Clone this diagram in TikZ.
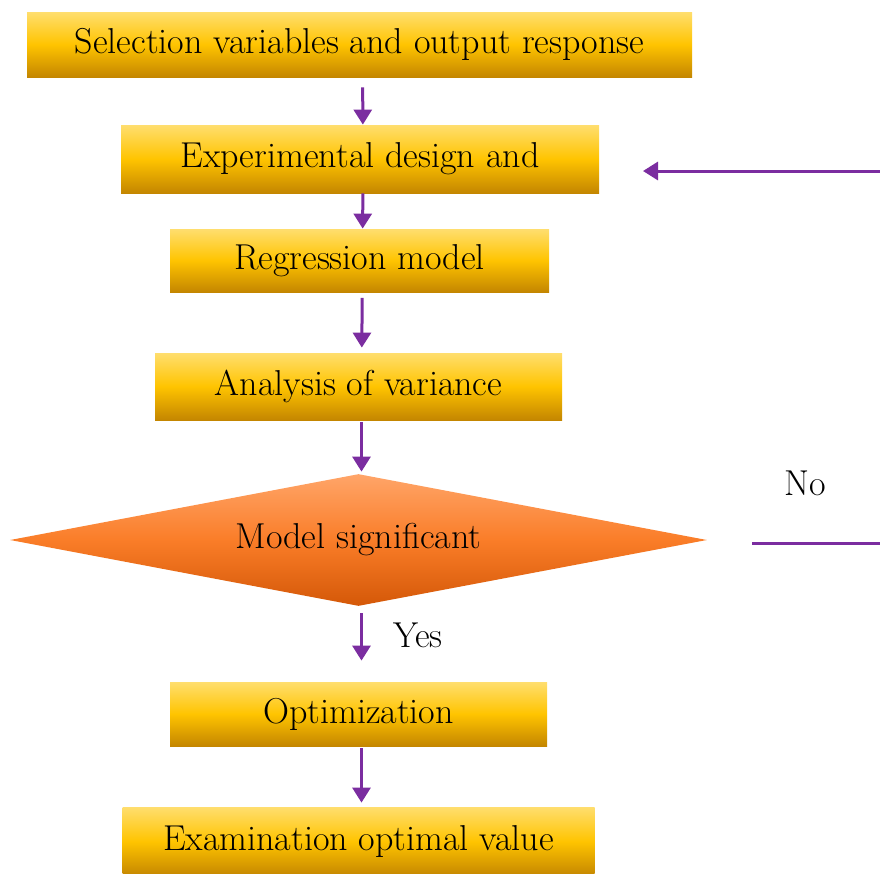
\documentclass[tikz,border=0pt]{standalone}
\usepackage{tikz}
\usetikzlibrary{positioning, arrows.meta, shapes.geometric}

\definecolor{boxtop}{RGB}{255,222,110}
\definecolor{boxmid}{RGB}{255,196,0}
\definecolor{boxbot}{RGB}{196,134,0}
\definecolor{testtop}{RGB}{255,165,105}
\definecolor{testmid}{RGB}{250,125,40}
\definecolor{testbot}{RGB}{212,88,8}
\definecolor{flowpurple}{RGB}{123,45,160}

\begin{document}
\begin{tikzpicture}[x=0.5pt, y=-0.5pt,
  box/.style={rectangle, inner sep=0pt, font=\fontsize{18}{21}\selectfont,
    top color=boxtop, bottom color=boxbot, middle color=boxmid},
  test/.style={diamond, shape aspect=5, inner sep=0pt, font=\fontsize{18}{21}\selectfont,
    top color=testtop, bottom color=testbot, middle color=testmid},
  lbl/.style={font=\fontsize{18}{21}\selectfont},
  arr/.style={flowpurple, line width=1.5pt, -{Triangle[length=7.5pt, width=9pt]}},
  down/.style={arr, transform canvas={xshift=1.5pt}}]
\useasboundingbox (0,0) rectangle (880,874);

% main chain
\node[box, minimum width=332.5pt, minimum height=32.5pt] (select) at (359.5,44.5) {Selection variables and output response};
\node[box, minimum width=239pt, minimum height=34pt] (design) at (360,159) {Experimental design and};
\node[box, minimum width=189.5pt, minimum height=31.5pt] (regr) at (359.5,260.5) {Regression model};
\node[box, minimum width=203.5pt, minimum height=33.5pt] (anova) at (358.5,386.5) {Analysis of variance};
\node[test, minimum width=348.5pt, minimum height=66pt] (signif) at (358.5,540) {Model significant};
\node[box, minimum width=188.5pt, minimum height=32pt] (optim) at (358.5,714) {Optimization};
\node[box, minimum width=236pt, minimum height=34.5pt] (exam) at (358.5,841.5) {Examination optimal value};

% branch labels
\node[lbl] (yes) at (418,635) {Yes};
\node[lbl] (no) at (805,483) {No};

\draw[down, shorten <=5pt] (select) -- (design);
\draw[down] (design) -- (regr);
\draw[down, shorten <=2.75pt, shorten >=2.5pt] (regr) -- (anova);
\draw[down, shorten <=1pt, shorten >=1pt] (anova) -- (signif);
\draw[down, shorten <=3.5pt, shorten >=10.5pt] (signif) -- (optim);
\draw[down, shorten <=1pt, shorten >=2pt] (optim) -- (exam);

% loop back when the model fails (its upright part runs along the edge)
\coordinate (nostart) at (752,543);
\coordinate (noturn) at (881,171);
\coordinate (noend) at (643,171);
\draw[arr] (nostart) -| (noturn) -- (noend);
\end{tikzpicture}
\end{document}
